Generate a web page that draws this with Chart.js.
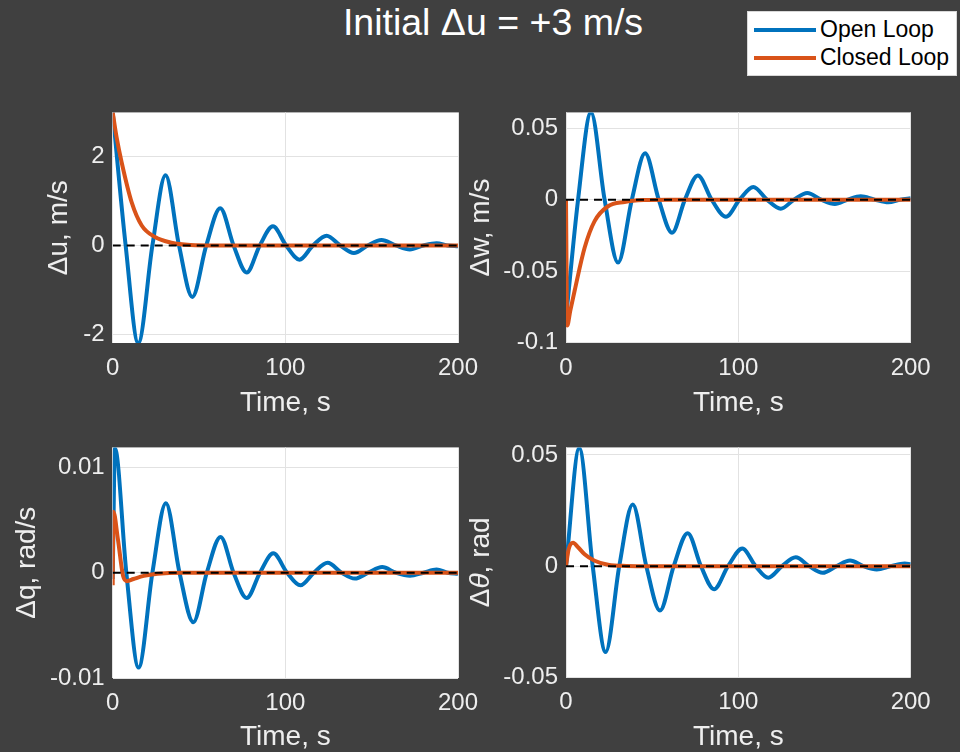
<!DOCTYPE html>
<html>
<head>
<meta charset="utf-8">
<script src="https://cdn.jsdelivr.net/npm/chart.js@4.4.1/dist/chart.umd.min.js"></script>
<style>
  html, body { margin:0; padding:0; background:#404040; width:960px; height:752px; overflow:hidden; }
  body { position:relative; font-family:"Liberation Sans", Arial, sans-serif; }
  canvas { position:absolute; }
  #title { position:absolute; left:0; top:4px; width:986px; text-align:center; color:#ffffff; font-size:37.5px; line-height:37.5px; }
  #legend { position:absolute; left:747px; top:11px; width:210px; height:65px; background:#ffffff; border:1px solid #d8d8d8; box-sizing:border-box; }
  .lg-line { position:absolute; left:6px; width:62px; height:4px; }
  .lg-text { position:absolute; left:72px; font-size:23px; line-height:23px; color:#000; white-space:nowrap; }
</style>
</head>
<body>
<div id="title">Initial Δu = +3 m/s</div>
<div id="legend">
  <div class="lg-line" style="top:16px;background:#0072BD"></div>
  <div class="lg-text" style="top:6px">Open Loop</div>
  <div class="lg-line" style="top:44px;background:#D95319"></div>
  <div class="lg-text" style="top:34px">Closed Loop</div>
</div>
<canvas id="c1" width="500" height="330" style="left:0px;top:90px"></canvas>
<canvas id="c3" width="500" height="330" style="left:0px;top:425px"></canvas>
<canvas id="c2" width="520" height="330" style="left:440px;top:90px"></canvas>
<canvas id="c4" width="520" height="330" style="left:440px;top:425px"></canvas>
<script>
// ---- shared axis ticks ----
const xTicks = [0, 100, 200];
const xTickLabels = ['0', '100', '200'];

// ---- Δu, m/s ----
const tU_open = [0, 7.5, 14.8, 23, 30.6, 38.4, 46.1, 54.2, 62.3, 70, 77.6, 85.2, 92.8, 100.4, 108.2, 116, 123.9, 131.8, 139.7, 147.7, 155.7, 164, 172.1, 180, 187.6, 194, 200];
const u_open  = [3, 0, -2.2, 0, 1.58, 0, -1.16, 0, 0.84, 0, -0.61, 0, 0.43, 0, -0.32, 0, 0.22, 0, -0.17, 0, 0.12, 0, -0.09, 0, 0.05, 0, -0.02];
const tU_closed = [0, 2.3, 5.2, 11, 16.8, 24.5, 34, 45, 60, 200];
const u_closed  = [3, 2.43, 1.87, 0.97, 0.45, 0.19, 0.06, 0.01, 0, 0];
const uTicks = [-2, 0, 2];
const uTickLabels = ['-2', '0', '2'];

// ---- Δw, m/s ----
const tW_open = [0, 7, 14.5, 22.4, 30.2, 38.2, 45.9, 53.8, 61.5, 69, 76.5, 84.5, 92.8, 100.7, 108.7, 116.6, 124.6, 132.3, 140, 148, 156, 163.5, 171, 179, 187, 194, 200];
const w_open  = [-0.083, 0, 0.061, 0, -0.044, 0, 0.0324, 0, -0.0231, 0, 0.0169, 0, -0.012, 0, 0.0088, 0, -0.0063, 0, 0.0046, 0, -0.003, 0, 0.0023, 0, -0.0019, 0, 0.001];
const tW_closed = [0, 0.7, 2.5, 5, 10.8, 16.6, 24.4, 34, 45, 60, 200];
const w_closed  = [0, -0.088, -0.0776, -0.0637, -0.0336, -0.015, -0.0046, -0.0016, -0.0003, 0, 0];
const wTicks = [-0.1, -0.05, 0, 0.05];
const wTickLabels = ['-0.1', '-0.05', '0', '0.05'];

// ---- Δq, rad/s ----
const tQ_open = [0, 1.3, 7.9, 15, 23, 30.8, 38.7, 46.7, 54.5, 62.5, 70, 77.6, 85.3, 93, 101, 108.7, 116.5, 124.5, 132.5, 140.3, 148, 156.1, 164, 172.2, 180, 187.6, 194, 200];
const q_open  = [-0.0006, 0.0118, 0, -0.009, 0, 0.0066, 0, -0.0047, 0, 0.0034, 0, -0.0024, 0, 0.00184, 0, -0.0012, 0, 0.00094, 0, -0.00056, 0, 0.00053, 0, -0.00028, 0, 0.0003, 0, -0.0001];
const tQ_closed = [0, 0.4, 3, 6, 8.2, 12, 18, 26, 40, 200];
const q_closed  = [-0.0012, 0.0058, 0.0032, -0.0003, -0.0008, -0.0006, -0.0003, -0.0001, 0, 0];
const qTicks = [-0.01, 0, 0.01];
const qTickLabels = ['-0.01', '0', '0.01'];

// ---- Δθ, rad ----
const tT_open = [0, 7.7, 15.5, 23, 30.9, 38.7, 46.6, 54.5, 62.5, 70.6, 78.3, 85.9, 94, 102.3, 110, 117.4, 125.3, 133.3, 141, 148.9, 157, 164.8, 172.5, 180.3, 188.5, 196.5, 200];
const th_open  = [0, 0.053, 0, -0.0386, 0, 0.0277, 0, -0.02, 0, 0.0148, 0, -0.0104, 0, 0.0079, 0, -0.0052, 0, 0.004, 0, -0.003, 0, 0.0025, 0, -0.0015, 0, 0.0012, 0.0009];
const tT_closed = [0, 1.5, 4.1, 7, 10.8, 16.6, 24.4, 35, 50, 200];
const th_closed  = [0, 0.0075, 0.0105, 0.0085, 0.0053, 0.0024, 0.0006, 0.0001, 0, 0];
const thTicks = [-0.05, 0, 0.05];
const thTickLabels = ['-0.05', '0', '0.05'];

const BLUE = '#0072BD', ORANGE = '#D95319';
const FONT = '"Liberation Sans", Arial, sans-serif';
const TXT = '#eeeeee';

const plotBg = {
  id: 'plotBg',
  beforeDraw(chart) {
    const a = chart.chartArea, ctx = chart.ctx;
    ctx.save();
    ctx.fillStyle = '#ffffff';
    ctx.fillRect(a.left, a.top, a.right - a.left, a.bottom - a.top);
    ctx.restore();
  }
};

// y title made of pieces (lets θ be italic, as in the reference)
const richYTitle = {
  id: 'richYTitle',
  afterDraw(chart, args, opts) {
    if (!opts || !opts.parts) return;
    const ctx = chart.ctx, a = chart.chartArea, ys = chart.scales.y;
    const size = 28;
    const fontOf = p => (p.italic ? 'italic ' : '') + size + 'px ' + FONT;
    ctx.save();
    let total = 0;
    opts.parts.forEach(p => { ctx.font = fontOf(p); total += ctx.measureText(p.text).width; });
    ctx.translate(ys.left + size * 1.2 / 2, (a.top + a.bottom) / 2);
    ctx.rotate(-Math.PI / 2);
    ctx.fillStyle = TXT;
    ctx.textBaseline = 'middle';
    ctx.textAlign = 'left';
    let x = -total / 2;
    opts.parts.forEach(p => { ctx.font = fontOf(p); ctx.fillText(p.text, x, 0); x += ctx.measureText(p.text).width; });
    ctx.restore();
  }
};

function pts(t, y) { return t.map((v, i) => ({x: v, y: y[i]})); }

function build(id, o) {
  const ch = new Chart(document.getElementById(id), {
    type: 'line',
    data: {
      datasets: [
        { data: pts([xTicks[0], xTicks[xTicks.length - 1]], [0, 0]), borderColor: '#000000', borderWidth: 2, borderDash: [8, 6], pointRadius: 0 },
        { data: pts(o.tc, o.yc), borderColor: ORANGE, borderWidth: 4, pointRadius: 0, cubicInterpolationMode: 'monotone' },
        { data: pts(o.to, o.yo), borderColor: BLUE, borderWidth: 4, pointRadius: 0, cubicInterpolationMode: 'monotone' }
      ]
    },
    options: {
      responsive: false, animation: false, devicePixelRatio: 1,
      layout: { padding: { left: o.padL, top: o.area.top, right: o.padR, bottom: 0 } },
      plugins: { legend: { display: false }, tooltip: { enabled: false }, richYTitle: { parts: o.titleParts || null } },
      scales: {
        x: {
          type: 'linear', min: 0, max: 200,
          afterBuildTicks: s => { s.ticks = xTicks.map(v => ({value: v})); },
          afterFit: s => { s.height = o.xH; },
          ticks: { color: TXT, font: { family: FONT, size: 24 }, padding: 11, maxRotation: 0,
                   callback: (v) => xTickLabels[xTicks.indexOf(v)] },
          grid: { color: '#e2e2e2', lineWidth: 1, drawTicks: false },
          border: { display: false },
          title: { display: true, text: 'Time, s', color: TXT, font: { family: FONT, size: 28 }, padding: { top: 0, bottom: o.xtPad } }
        },
        y: {
          type: 'linear', min: o.ymin, max: o.ymax,
          afterBuildTicks: s => { s.ticks = o.ticks.map(v => ({value: v})); },
          afterFit: s => { s.width = o.yW; },
          ticks: { color: TXT, font: { family: FONT, size: 24 }, padding: 8,
                   callback: (v) => o.labels[o.ticks.indexOf(v)] },
          grid: { color: '#e2e2e2', lineWidth: 1, drawTicks: false },
          border: { display: false },
          title: { display: !o.titleParts, text: o.title, color: TXT, font: { family: FONT, size: 28 }, padding: { top: 0, bottom: 0 } }
        }
      }
    },
    plugins: [plotBg, richYTitle]
  });
  // nudge layout so the plot box lands where the reference has it
  for (let k = 0; k < 3; k++) {
    const a = ch.chartArea;
    o.yW += o.area.left - a.left;
    o.padR += a.right - o.area.right;
    o.xH += a.bottom - o.area.bottom;
    ch.options.layout.padding.right = o.padR;
    ch.options.layout.padding.top = o.area.top;
    ch.update();
  }
  return ch;
}

build('c1', { to: tU_open, yo: u_open, tc: tU_closed, yc: u_closed, ymin: -2.2, ymax: 3, ticks: uTicks, labels: uTickLabels, title: 'Δu, m/s',
  padL: 42.2, yW: 70.5, padR: 42, xH: 77, xtPad: 0.2, area: { left: 112.7, right: 458, top: 22, bottom: 253 } });
build('c3', { to: tQ_open, yo: q_open, tc: tQ_closed, yc: q_closed, ymin: -0.01, ymax: 0.0119, ticks: qTicks, labels: qTickLabels, title: 'Δq, rad/s',
  padL: 10.7, yW: 102, padR: 42, xH: 77, xtPad: 1.2, area: { left: 112.7, right: 458, top: 20, bottom: 253 } });
build('c2', { to: tW_open, yo: w_open, tc: tW_closed, yc: w_closed, ymin: -0.1, ymax: 0.061, ticks: wTicks, labels: wTickLabels, title: 'Δw, m/s',
  padL: 24.2, yW: 101.8, padR: 49.3, xH: 77.3, xtPad: 0.2, area: { left: 126, right: 470.7, top: 22, bottom: 252.7 } });
build('c4', { to: tT_open, yo: th_open, tc: tT_closed, yc: th_closed, ymin: -0.05, ymax: 0.0534, ticks: thTicks, labels: thTickLabels, title: 'Δθ, rad',
  titleParts: [{ text: 'Δ' }, { text: 'θ', italic: true }, { text: ', rad' }],
  padL: 24.2, yW: 101.8, padR: 49.3, xH: 77.7, xtPad: 1.2, area: { left: 126, right: 470.7, top: 20, bottom: 252.3 } });
</script>
</body>
</html>
